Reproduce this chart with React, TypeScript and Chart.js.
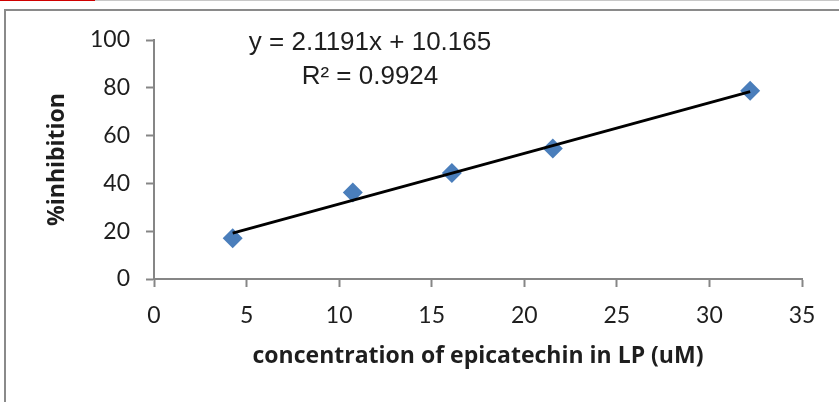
import React, { useEffect, useRef } from "react";
import { Chart, registerables } from "chart.js";

Chart.register(...registerables);

// Data
const concentration = [4.25, 10.74, 16.09, 21.54, 32.2];
const inhibition = [17.1, 36.2, 44.4, 54.6, 78.8];
const trendX = [4.25, 32.2];
const trendY = [19.2, 78.4];
const xTickValues = [0, 5, 10, 15, 20, 25, 30, 35];
const yTickValues = [0, 20, 40, 60, 80, 100];
const equationLines = ["y = 2.1191x + 10.165", "R\u00B2 = 0.9924"];
const xTitle = "concentration of epicatechin in LP (uM)";
const yTitle = "%inhibition";

const AXIS_GRAY = "#868686";
const TEXT = "#1e1e1e";

const equationPlugin = {
  id: "equation",
  afterDraw(chart: any) {
    const ctx = chart.ctx;
    ctx.save();
    ctx.fillStyle = TEXT;
    ctx.font = '26px "Liberation Sans", Arial, sans-serif';
    ctx.textAlign = "center";
    ctx.textBaseline = "alphabetic";
    ctx.fillText(equationLines[0], 370, 50);
    ctx.fillText(equationLines[1], 370, 84);
    ctx.restore();
  },
};

export default function App() {
  const ref = useRef<HTMLCanvasElement | null>(null);

  useEffect(() => {
    if (!ref.current) return;
    const chart = new Chart(ref.current, {
      type: "scatter",
      data: {
        datasets: [
          {
            label: "Linear trend",
            data: trendX.map((x, i) => ({ x, y: trendY[i] })),
            showLine: true,
            borderColor: "#000000",
            borderWidth: 3,
            pointRadius: 0,
            order: 0,
          },
          {
            label: "%inhibition",
            data: concentration.map((x, i) => ({ x, y: inhibition[i] })),
            pointStyle: "rectRot",
            pointRadius: 10,
            backgroundColor: "#4a7ebb",
            borderColor: "#4a7ebb",
            borderWidth: 0,
            order: 1,
          },
        ],
      },
      options: {
        responsive: false,
        animation: false,
        layout: { padding: { top: 40, right: 37, left: 0, bottom: 0 } },
        plugins: {
          legend: { display: false },
          tooltip: { enabled: false },
        },
        scales: {
          x: {
            type: "linear",
            min: 0,
            max: 35,
            afterFit: (s: any) => {
              s.height = 123;
            },
            afterBuildTicks: (s: any) => {
              s.ticks = xTickValues.map((v) => ({ value: v }));
            },
            border: { color: AXIS_GRAY, width: 2 },
            grid: {
              drawOnChartArea: false,
              tickLength: 8,
              tickColor: AXIS_GRAY,
              tickWidth: 2,
            },
            ticks: {
              color: TEXT,
              padding: 15,
              font: { family: "Lato", size: 23 },
            },
            title: {
              display: true,
              text: xTitle,
              color: TEXT,
              font: { family: "'Open Sans'", size: 23, weight: "bold" },
              padding: { top: 0, bottom: 32 },
            },
          },
          y: {
            type: "linear",
            min: 0,
            max: 100,
            afterFit: (s: any) => {
              s.width = 154;
            },
            afterBuildTicks: (s: any) => {
              s.ticks = yTickValues.map((v) => ({ value: v }));
            },
            border: { color: AXIS_GRAY, width: 2 },
            grid: {
              drawOnChartArea: false,
              tickLength: 8,
              tickColor: AXIS_GRAY,
              tickWidth: 2,
            },
            ticks: {
              color: TEXT,
              padding: 16,
              font: { family: "Lato", size: 23 },
            },
            title: {
              display: true,
              text: yTitle,
              color: TEXT,
              font: { family: "'Open Sans'", size: 23, weight: "bold" },
              padding: { top: 44, bottom: 0 },
            },
          },
        },
      },
      plugins: [equationPlugin],
    });
    return () => chart.destroy();
  }, []);

  return (
    <div
      style={{
        position: "fixed",
        left: 0,
        top: 0,
        width: 839,
        height: 402,
        background: "#ffffff",
        overflow: "hidden",
      }}
    >
      <div style={{ position: "absolute", left: 0, top: 0, width: 95, height: 1, background: "#d00000" }} />
      <div style={{ position: "absolute", left: 95, top: 0, width: 744, height: 1, background: "#c8c8c8" }} />
      <div style={{ position: "absolute", left: 4, top: 9, width: 835, height: 2, background: "#8a8a8a" }} />
      <div style={{ position: "absolute", left: 4, top: 9, width: 2, height: 393, background: "#8a8a8a" }} />
      <canvas
        ref={ref}
        width={839}
        height={402}
        style={{ position: "absolute", left: 0, top: 0, width: 839, height: 402 }}
      />
    </div>
  );
}
